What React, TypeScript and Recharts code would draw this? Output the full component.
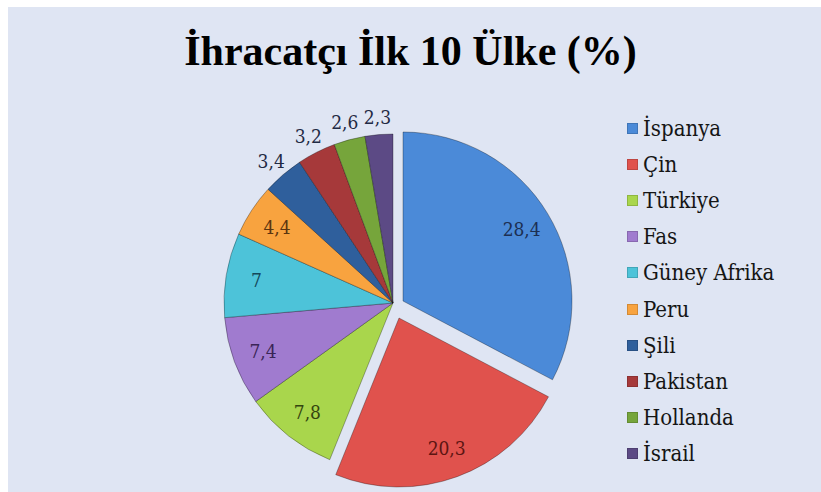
import React from "react";
import { PieChart, Pie, Cell } from "recharts";

const countries = ["İspanya", "Çin", "Türkiye", "Fas", "Güney Afrika", "Peru", "Şili", "Pakistan", "Hollanda", "İsrail"];
const shares = [28.4, 20.3, 7.8, 7.4, 7, 4.4, 3.4, 3.2, 2.6, 2.3];
const colors = ["#4b8ad8", "#e0524d", "#a9d64c", "#a07bcf", "#4dc3d9", "#f8a33f", "#2f5f9c", "#a6393a", "#76a53b", "#5c4a85"];
const labelColors = ["#1c2f52", "#5c1512", "#34450f", "#3a2556", "#14475a", "#5a3510", "#1f2a44", "#1f2a44", "#1f2a44", "#1f2a44"];

const data = countries.map((name, i) => ({ name, value: shares[i] }));

const SERIF = "'Liberation Serif', 'Times New Roman', serif";
const TEXT_SERIF = "'DejaVu Serif Condensed', 'DejaVu Serif', serif";

const CX = 388;
const CY = 298;
const R = 169;
// exploded slices: İspanya and Çin
const offsets = [
  { dx: 10, dy: -2 },
  { dx: 6, dy: 15 },
];

const RAD = Math.PI / 180;

const renderLabel = (props: any) => {
  const { cx, cy, midAngle, index, value } = props;
  const off = offsets[index] || { dx: 0, dy: 0 };
  const r = value >= 4 ? R * 0.82 : R + 18;
  const x = cx + off.dx + r * Math.cos(-midAngle * RAD);
  const y = cy + off.dy + r * Math.sin(-midAngle * RAD);
  return (
    <text
      x={x}
      y={y}
      fill={labelColors[index]}
      textAnchor="middle"
      dominantBaseline="central"
      style={{ fontFamily: TEXT_SERIF }}
      fontSize={19}
    >
      {String(value).replace(".", ",")}
    </text>
  );
};

const App: React.FC = () => {
  return (
    <div style={{ position: "absolute", left: 0, top: 0, width: 821, height: 492, background: "#ffffff" }}>
      <div style={{ position: "absolute", left: 8, top: 7, width: 813, height: 485, background: "#dfe5f3" }} />
      <div
        style={{
          position: "absolute",
          left: 0,
          top: 24,
          width: 821,
          textAlign: "center",
          fontFamily: SERIF,
          fontWeight: "bold",
          fontSize: 42,
          lineHeight: "54px",
          color: "#000",
        }}
      >
        İhracatçı İlk 10 Ülke (%)
      </div>
      <div style={{ position: "absolute", left: 0, top: 0 }}>
        <PieChart width={821} height={492}>
          {offsets.map((off, k) => (
            <Pie
              key={`exp-${k}`}
              data={data}
              dataKey="value"
              nameKey="name"
              cx={CX + off.dx}
              cy={CY + off.dy}
              outerRadius={R}
              startAngle={90}
              endAngle={-270}
              isAnimationActive={false}
              stroke="none"
            >
              {data.map((_, i) => (
                <Cell
                  key={`c-${k}-${i}`}
                  fill={i === k ? colors[i] : "transparent"}
                  stroke={i === k ? "rgba(0,0,0,0.3)" : "none"}
                  strokeWidth={1}
                />
              ))}
            </Pie>
          ))}
          <Pie
            data={data}
            dataKey="value"
            nameKey="name"
            cx={CX}
            cy={CY}
            outerRadius={R}
            startAngle={90}
            endAngle={-270}
            isAnimationActive={false}
            labelLine={false}
            label={renderLabel}
          >
            {data.map((_, i) => (
              <Cell
                key={`b-${i}`}
                fill={i < 2 ? "transparent" : colors[i]}
                stroke={i < 2 ? "none" : "rgba(0,0,0,0.3)"}
                strokeWidth={1}
              />
            ))}
          </Pie>
        </PieChart>
      </div>
      {countries.map((name, i) => (
        <div
          key={name}
          style={{
            position: "absolute",
            left: 627,
            top: 128 + i * 36.2 - 13,
            height: 26,
            display: "flex",
            alignItems: "center",
            fontFamily: TEXT_SERIF,
            fontSize: 22,
            color: "#151515",
          }}
        >
          <span style={{ width: 9, height: 9, background: colors[i], marginRight: 5, border: "1px solid rgba(0,0,0,0.15)" }} />
          <span>{name}</span>
        </div>
      ))}
    </div>
  );
};

export default App;
